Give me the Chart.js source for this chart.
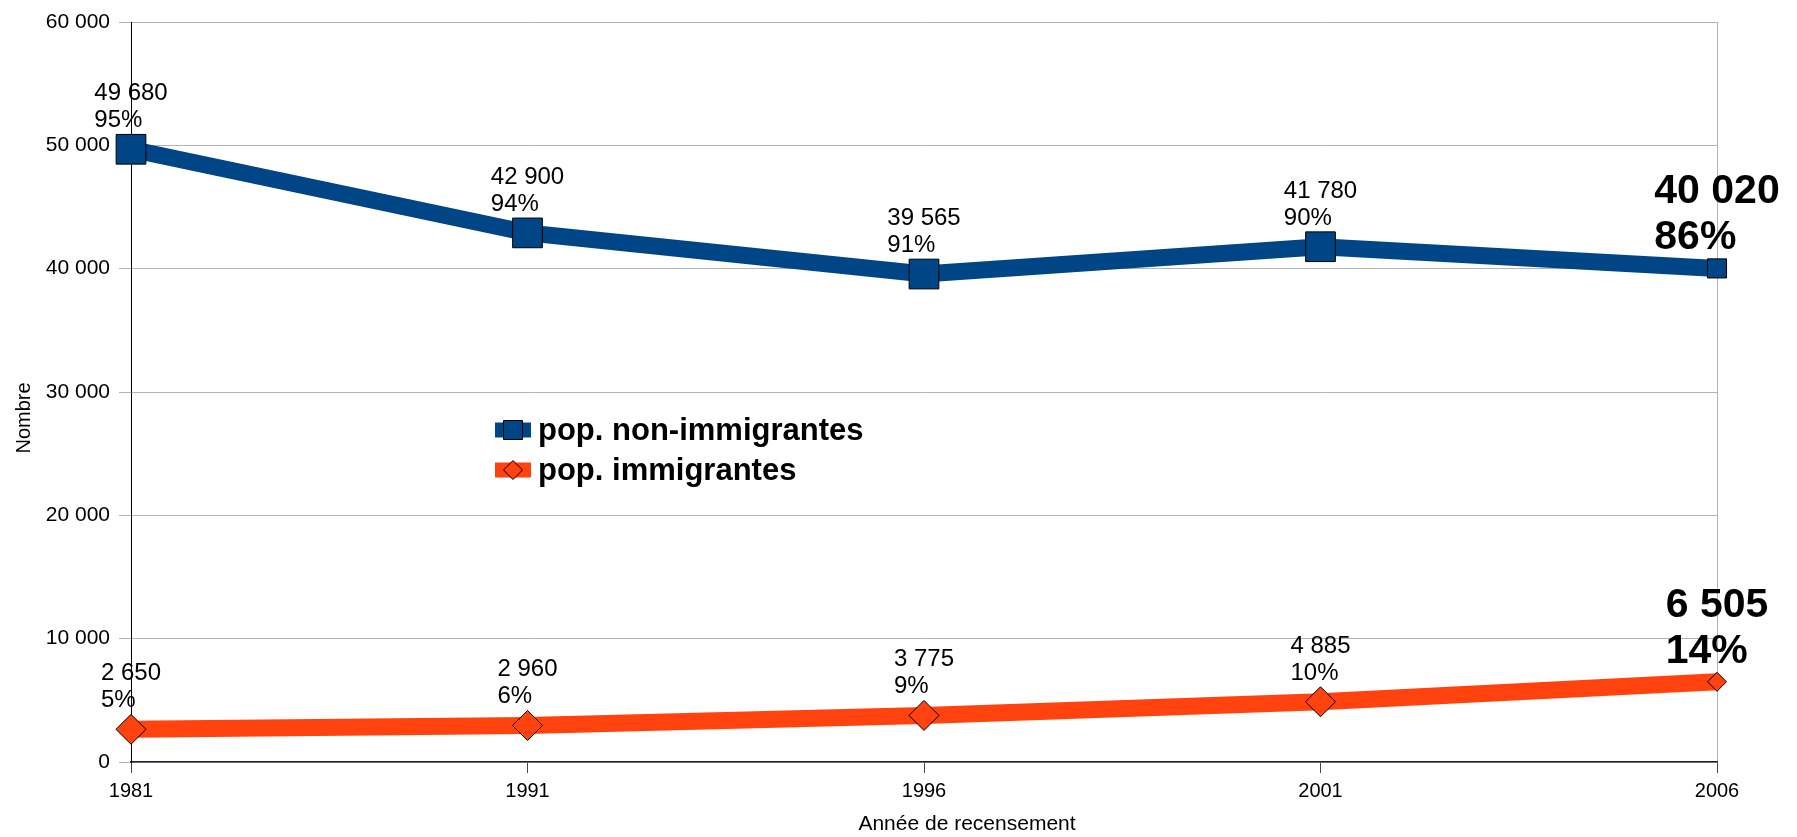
<!DOCTYPE html>
<html>
<head>
<meta charset="utf-8">
<script src="https://cdn.jsdelivr.net/npm/chart.js@4/dist/chart.umd.min.js"></script>
<style>
  html, body { margin: 0; padding: 0; background: #fff; }
  canvas { display: block; }
</style>
</head>
<body>
<canvas id="myChart" width="1797" height="837"></canvas>
<script>
'use strict';

const years = ['1981', '1991', '1996', '2001', '2006'];

const nonImmigrants = [49680, 42900, 39565, 41780, 40020];
const nonImmigrantsPct = [95, 94, 91, 90, 86];

const immigrants = [2650, 2960, 3775, 4885, 6505];
const immigrantsPct = [5, 6, 9, 10, 14];

const seriesNames = ['pop. non-immigrantes', 'pop. immigrantes'];

const blue = '#004586';
const orange = '#ff420e';
const FONT = '"Liberation Sans", Arial, sans-serif';


function formatNumber(n) {
  return String(n).replace(/\B(?=(\d{3})+(?!\d))/g, ' ');
}

// two-line labels above each point, the 2006 one bigger and bold
const pointLabels = {
  id: 'pointLabels',
  afterDatasetsDraw(chart) {
    const ctx = chart.ctx;
    const pcts = [nonImmigrantsPct, immigrantsPct];
    ctx.save();
    ctx.fillStyle = '#000';
    ctx.textAlign = 'left';
    ctx.textBaseline = 'alphabetic';
    chart.data.datasets.forEach(function (ds, d) {
      const meta = chart.getDatasetMeta(d);
      meta.data.forEach(function (pt, i) {
        const last = i === ds.data.length - 1;
        const lines = [formatNumber(ds.data[i]), pcts[d][i] + '%'];
        ctx.font = last ? 'bold 41px ' + FONT : '24px ' + FONT;
        const lineH = last ? 46 : 27;
        let w = 0;
        for (let k = 0; k < lines.length; k++) {
          w = Math.max(w, ctx.measureText(lines[k]).width);
        }
        const left = pt.x - w / 2;
        const base = pt.y - (last ? 19 : 22);
        ctx.fillText(lines[1], left, base);
        ctx.fillText(lines[0], left, base - lineH);
      });
    });
    ctx.restore();
  }
};

// legend box sitting inside the plot, plus both axis titles
const extras = {
  id: 'extras',
  afterDraw(chart) {
    const ctx = chart.ctx;
    ctx.save();

    const rows = [430, 470];
    chart.data.datasets.forEach(function (ds, d) {
      const y = rows[d];
      ctx.fillStyle = ds.borderColor;
      ctx.fillRect(495, y - 7.5, 36, 15);
      ctx.beginPath();
      if (d === 0) {
        ctx.rect(513 - 9.5, y - 9.5, 19, 19);
      } else {
        ctx.moveTo(513 - 9.5, y);
        ctx.lineTo(513, y - 9.5);
        ctx.lineTo(513 + 9.5, y);
        ctx.lineTo(513, y + 9.5);
        ctx.closePath();
      }
      ctx.fillStyle = ds.backgroundColor;
      ctx.fill();
      ctx.lineWidth = 1;
      ctx.strokeStyle = '#000';
      ctx.stroke();

      ctx.fillStyle = '#000';
      ctx.font = 'bold 31px ' + FONT;
      ctx.textAlign = 'left';
      ctx.textBaseline = 'middle';
      ctx.fillText(seriesNames[d], 538, y + 1);
    });

    ctx.font = '21px ' + FONT;
    ctx.textAlign = 'center';
    ctx.textBaseline = 'middle';
    ctx.fillText('Année de recensement', 967, 824);

    ctx.translate(24, 418);
    ctx.rotate(-Math.PI / 2);
    ctx.font = '20px ' + FONT;
    ctx.fillText('Nombre', 0, 0);
    ctx.restore();
  }
};

const ctx = document.getElementById('myChart').getContext('2d');
const chart = new Chart(ctx, {
  type: 'line',
  data: {
    labels: years,
    datasets: [{
      label: seriesNames[0],
      data: nonImmigrants,
      borderColor: blue,
      backgroundColor: blue,
      borderWidth: 17,
      pointStyle: 'rect',
      pointRadius: [21, 21, 21, 21, 13.5],
      pointBorderColor: '#000',
      pointBorderWidth: 1,
      tension: 0,
      clip: false
    },
    {
      label: seriesNames[1],
      data: immigrants,
      borderColor: orange,
      backgroundColor: orange,
      borderWidth: 17,
      pointStyle: 'rectRot',
      pointRadius: [15, 15, 15, 15, 9.5],
      pointBorderColor: '#000',
      pointBorderWidth: 1,
      tension: 0,
      clip: false
    }]
  },
  options: {
    responsive: false,
    animation: false,
    events: [],
    layout: { padding: { top: 18, right: 80, bottom: 0, left: 0 } },
    plugins: {
      legend: { display: false },
      tooltip: { enabled: false }
    },
    scales: {
      x: {
        offset: false,
        afterFit(scale) { scale.height = 75; },
        grid: {
          color: (c) => c.index === years.length - 1 ? '#b3b3b3' : 'rgba(0,0,0,0)',
          tickColor: '#444',
          tickLength: 11
        },
        border: { color: '#222', width: 1.5 },
        ticks: {
          color: '#000',
          font: { family: FONT, size: 20 },
          padding: 6,
          maxRotation: 0
        }
      },
      y: {
        min: 0,
        max: 60000,
        afterFit(scale) { scale.width = 131; },
        grid: {
          color: '#b3b3b3',
          tickLength: 12
        },
        border: { color: '#000', width: 1 },
        ticks: {
          stepSize: 10000,
          color: '#000',
          font: { family: FONT, size: 21 },
          padding: 9,
          callback: (v) => formatNumber(v)
        }
      }
    }
  },
  plugins: [pointLabels, extras]
});
</script>
</body>
</html>
